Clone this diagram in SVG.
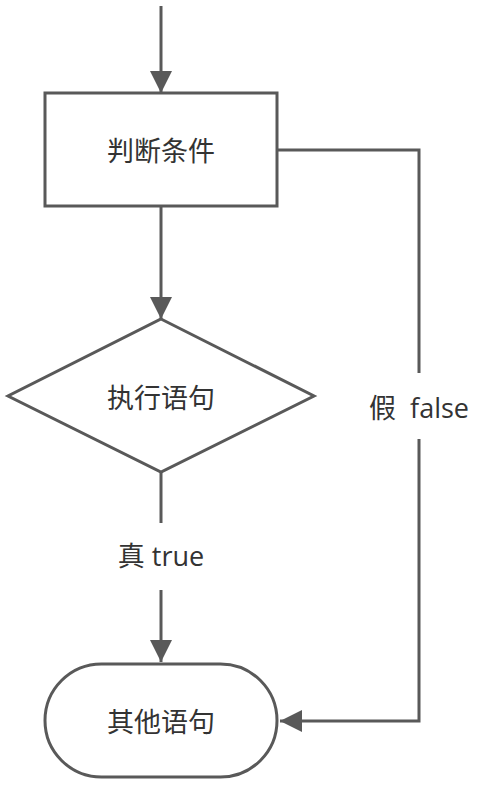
<svg xmlns="http://www.w3.org/2000/svg" width="492" height="786" viewBox="0 0 492 786">
<style>
.s{fill:#fff;stroke:#595959;stroke-width:3}
.c{fill:none;stroke:#595959;stroke-width:3}
.t{font-family:"Open Sans","Noto Sans CJK SC",sans-serif;font-size:27px;fill:#333;text-anchor:middle;dominant-baseline:central}
</style>
<defs>
<marker id="ah" viewBox="0 0 22 22" refX="22" refY="11" markerWidth="22" markerHeight="22" orient="auto" markerUnits="userSpaceOnUse">
<path d="M0,0 L22,11 L0,22 Z" fill="#595959"/>
</marker>
</defs>
<g id="connectors">
<path class="c" d="M161,6 V93" marker-end="url(#ah)"/>
<path class="c" d="M161,206 V319" marker-end="url(#ah)"/>
<path class="c" d="M161,472 V523"/>
<path class="c" d="M161,590 V662" marker-end="url(#ah)"/>
<path class="c" d="M278,150 H419 V373"/>
<path class="c" d="M419,439 V721 H280" marker-end="url(#ah)"/>
<text class="t" x="161" y="555">真 true</text>
<text class="t" x="419" y="407" xml:space="preserve">假  false</text>
</g>
<g id="cond">
<rect class="s" x="45" y="93" width="232" height="113"/>
<text class="t" x="161" y="150">判断条件</text>
</g>
<g id="exec">
<polygon class="s" points="161,319 314,396 161,472 8,396"/>
<text class="t" x="161" y="397">执行语句</text>
</g>
<g id="other">
<rect class="s" x="45" y="664" width="232" height="113" rx="56.5" ry="56.5"/>
<text class="t" x="161" y="721">其他语句</text>
</g>
</svg>
